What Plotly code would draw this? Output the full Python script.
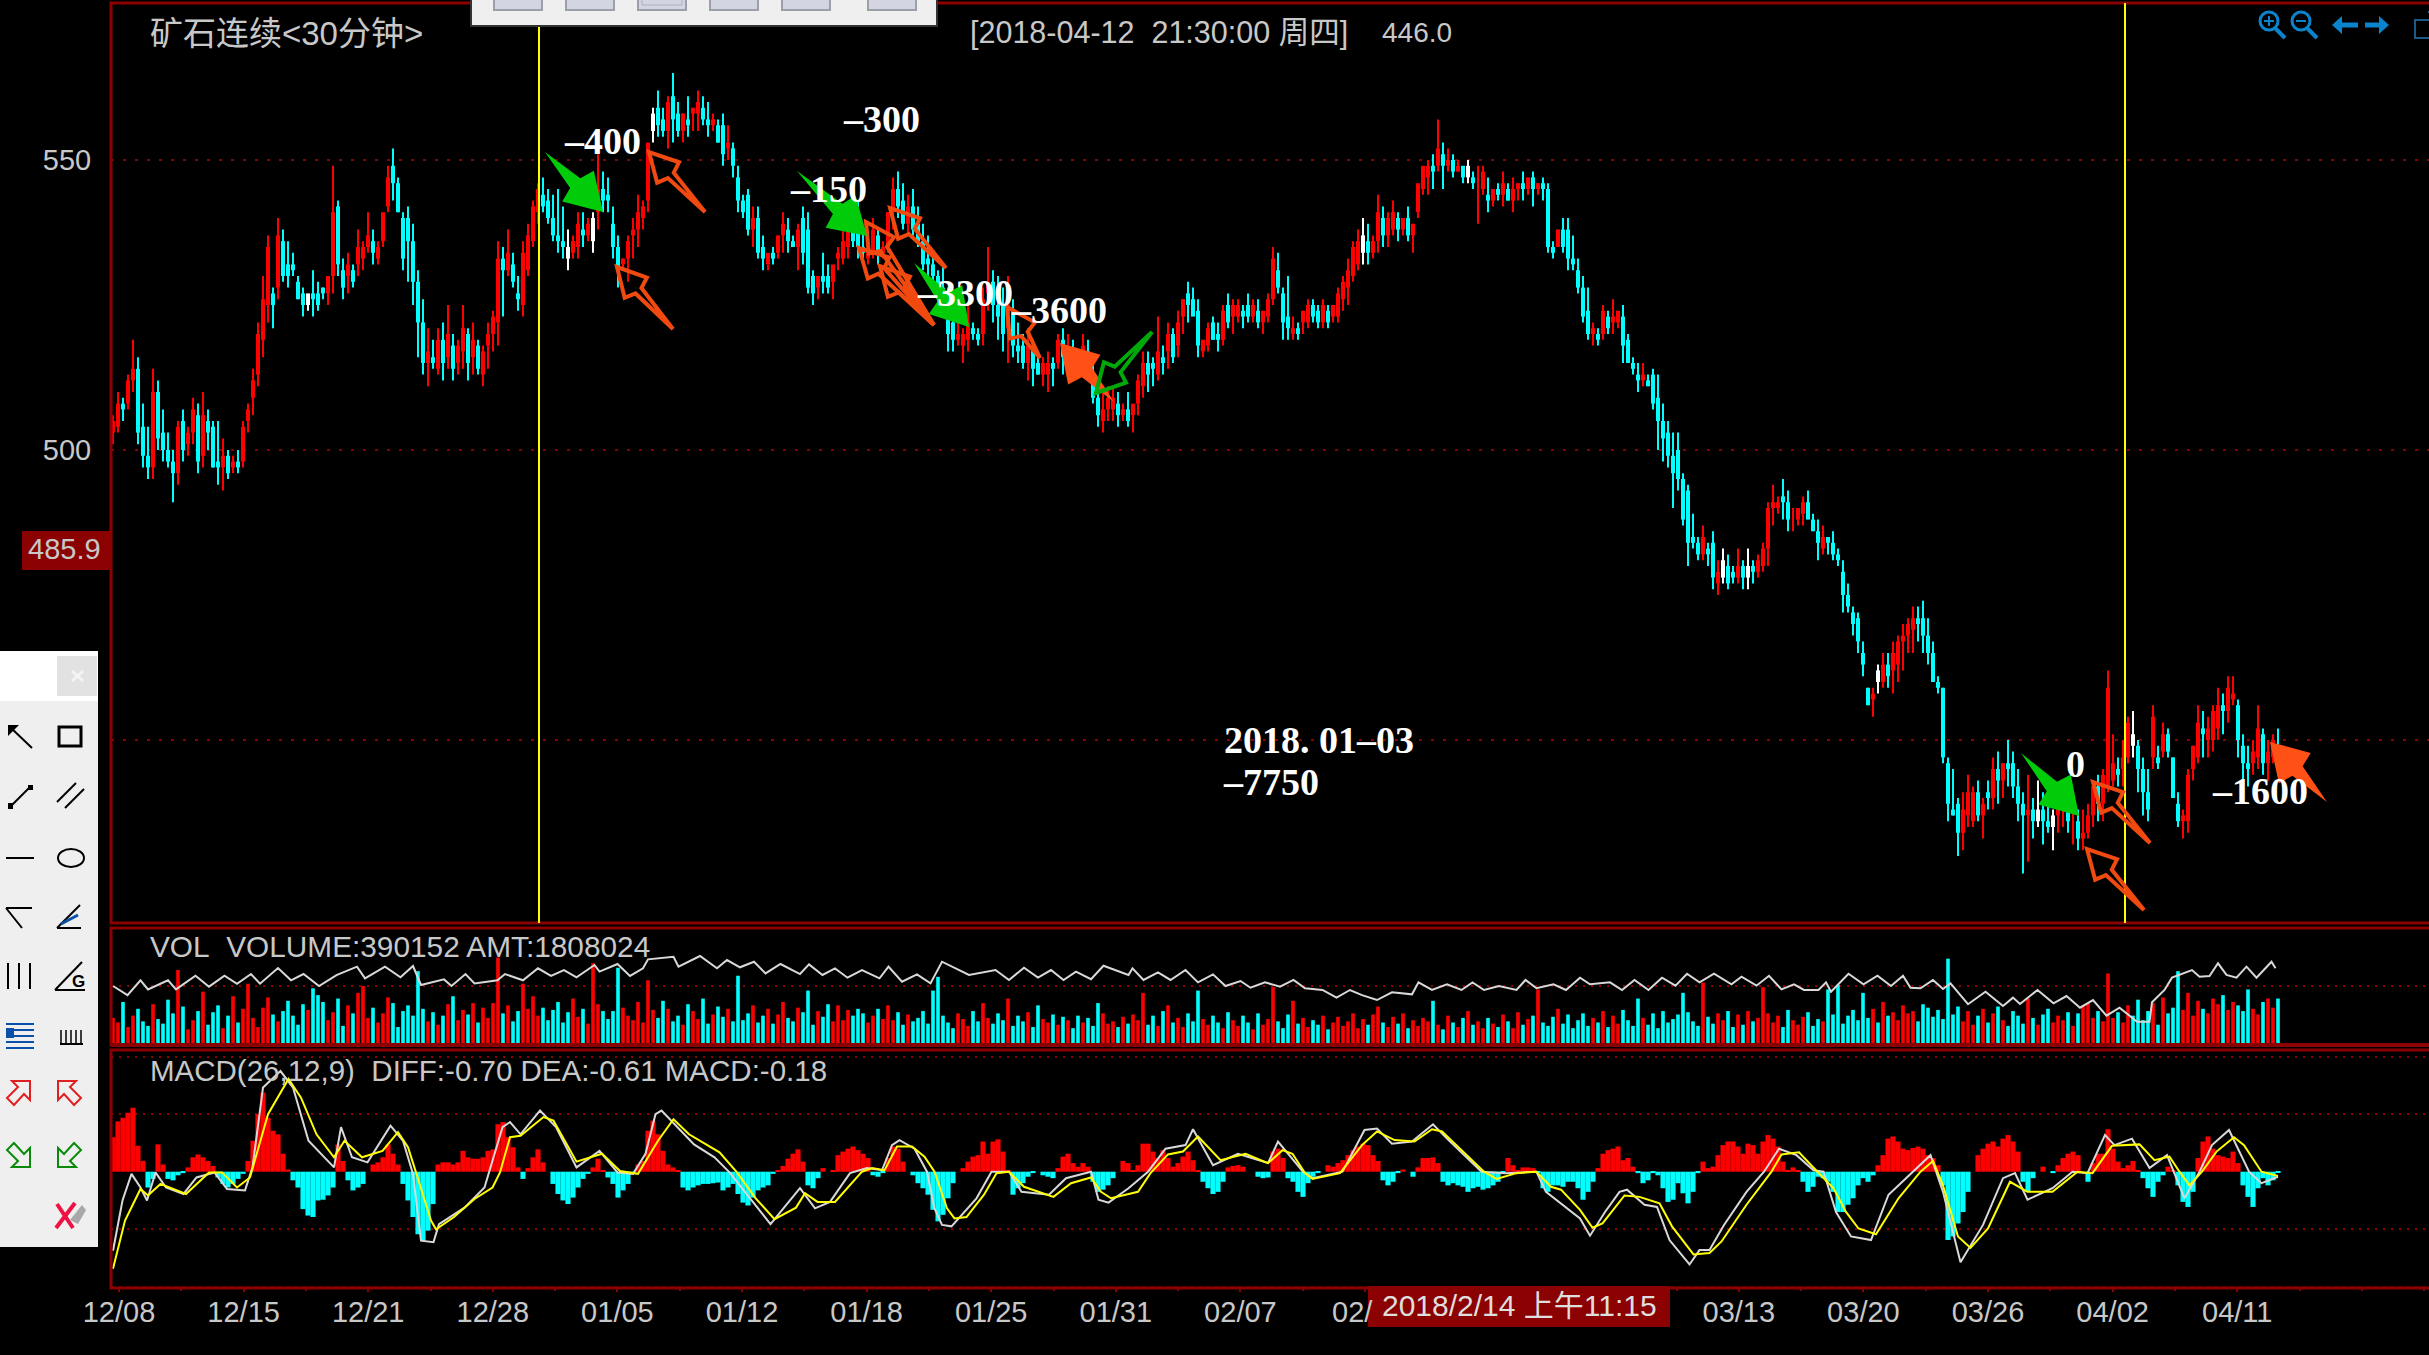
import plotly.graph_objects as go

# ---------- chart text ----------
title_text = "矿石连续<30分钟>"
stamp_text = "[2018-04-12\u00a0\u00a021:30:00 周四]"
last_price_text = "446.0"
vol_text = "VOL\u00a0\u00a0VOLUME:390152 AMT:1808024"
macd_text = "MACD(26,12,9)\u00a0\u00a0DIFF:-0.70 DEA:-0.61 MACD:-0.18"
price_ticks = [550, 500, 450]
price_tick_text = ["550", "500", ""]
# the crosshair date tag hides the 02/14, 02/22 and 03/05 labels, so only "02/" peeks out
date_labels = ["12/08", "12/15", "12/21", "12/28", "01/05", "01/12", "01/18", "01/25", "01/31",
               "02/07", "", "", "", "03/13", "03/20", "03/26", "04/02", "04/11"]

# ---------- 30-minute bars ----------
highs = [
 506,510,509,513,519,516,508,504,514,512,507,503,500,505,507,504,509,508,510,507,505,505,502,500,499,
 500,505,508,514,522,530,537,528,540,538,536,534,530,528,526,531,529,528,530,549,543,533,534,532,538,
 536,541,538,536,540,549,552,547,541,542,539,531,526,521,519,521,522,525,520,519,525,521,522,519,518,
 522,524,536,535,538,534,530,536,539,543,546,547,545,544,545,542,538,537,541,541,540,541,551,548,547,
 542,537,533,537,540,544,543,550,559,562,559,561,565,560,558,561,559,562,561,560,558,557,558,556,553,
 549,544,545,542,542,537,532,535,536,541,540,537,539,542,541,531,530,534,532,530,535,538,537,542,543,
 538,535,540,538,536,541,547,548,546,544,545,542,539,537,534,531,532,528,525,522,521,525,522,521,528,
 535,531,530,528,530,526,522,520,521,519,517,516,517,516,520,521,520,519,516,520,519,515,511,510,511,
 511,510,508,510,507,513,517,517,516,523,518,522,521,524,526,529,528,526,519,522,523,522,525,527,526,
 526,525,527,526,526,524,527,535,534,528,530,523,522,524,526,526,525,526,525,525,528,530,533,536,538,
 540,539,537,544,542,541,543,541,540,542,539,541,546,550,551,557,553,552,551,550,548,550,548,549,549,
 547,545,546,548,546,547,546,548,545,548,546,547,546,536,538,540,540,537,533,530,528,522,521,525,524,
 526,524,525,520,516,515,515,513,514,513,508,505,503,503,496,494,489,485,487,484,486,481,483,482,480,
 483,481,483,481,482,484,491,494,492,495,493,490,489,492,493,489,488,487,485,486,483,481,477,473,472,
 467,459,459,463,465,465,467,468,470,471,473,473,474,471,467,461,459,447,445,440,441,444,442,443,440,
 443,447,448,446,450,448,445,441,444,440,443,441,441,438,440,441,443,439,438,438,439,443,444,445,462,
 451,447,450,454,455,450,447,445,456,449,453,452,447,441,438,445,449,456,455,454,456,459,458,461,461,
 457,451,449,450,456,452,450,451,452]
lows = [
 501,503,505,507,510,501,497,495,495,500,498,497,491,494,498,499,501,496,497,500,497,494,493,495,496,
 496,497,503,506,511,516,522,521,526,529,528,530,526,523,524,523,524,526,525,527,530,526,527,528,530,
 531,534,532,532,535,541,543,541,531,529,525,516,513,511,514,513,512,514,512,513,514,512,513,513,511,
 514,517,518,523,530,528,524,523,530,535,539,541,539,536,534,533,531,533,533,535,536,534,538,541,541,
 533,528,531,529,533,535,538,541,553,554,554,552,553,554,553,554,555,555,556,554,555,553,549,550,547,
 541,540,537,535,533,531,531,532,533,534,534,535,531,532,527,525,526,527,527,526,531,532,533,535,533,
 533,532,533,532,533,534,538,540,538,537,537,535,531,530,529,525,523,517,517,518,515,517,519,518,518,
 524,522,519,517,515,516,515,514,512,511,513,511,510,511,514,513,515,514,513,513,514,508,504,503,505,
 505,504,505,504,503,506,509,510,511,512,513,514,515,516,520,522,524,516,516,517,519,517,518,521,520,
 522,521,522,522,521,520,522,525,527,519,519,519,519,520,521,522,521,521,521,522,522,524,525,529,531,
 532,532,533,534,535,535,537,536,537,536,534,540,544,544,545,548,545,548,547,548,546,546,545,539,544,
 541,542,543,542,543,541,543,543,544,542,544,543,534,533,535,534,531,531,527,522,519,518,518,519,520,
 520,521,515,516,513,510,511,511,507,500,498,497,490,493,487,480,483,481,481,480,476,475,477,476,477,
 477,476,476,477,478,479,480,487,489,488,486,486,487,487,489,486,481,482,482,481,480,472,472,468,465,
 461,456,454,458,459,459,458,460,462,465,465,467,465,463,462,458,446,436,437,430,431,435,435,436,433,
 438,438,439,440,442,440,436,427,429,433,435,432,434,431,434,435,434,432,431,431,433,435,436,436,441,
 442,442,442,446,447,441,437,436,445,445,447,447,440,435,433,434,443,446,447,447,448,450,451,453,456,
 447,443,442,444,445,444,443,446,447]
opens = [
 503,504,508,508,512,514,504,499,497,510,503,500,498,496,505,501,503,506,499,505,504,498,497,499,497,
 498,498,505,509,513,519,525,527,528,536,532,532,529,527,525,527,527,528,527,530,542,531,530,531,532,
 533,535,536,533,536,542,549,546,540,540,536,529,522,515,516,514,519,516,518,515,517,520,516,518,513,
 518,520,522,533,531,532,527,525,531,536,541,544,543,540,537,536,535,534,535,538,537,536,541,545,544,
 539,535,532,533,537,538,540,543,555,559,557,555,561,558,555,557,558,558,559,557,556,556,556,552,552,
 547,543,544,538,540,535,532,534,534,537,538,536,535,540,538,530,528,530,530,529,533,533,535,540,541,
 535,533,534,537,534,535,541,545,543,539,542,539,536,533,532,530,528,526,522,519,518,519,521,520,520,
 527,529,525,525,521,524,518,518,515,518,515,513,513,515,515,519,516,517,515,515,517,513,509,505,507,
 507,508,506,507,506,508,511,515,515,513,516,517,520,518,523,527,526,524,517,518,522,520,519,525,523,
 523,524,525,523,524,522,523,526,531,527,523,520,521,522,522,525,524,522,524,523,523,526,528,530,532,
 534,536,534,536,540,537,538,540,538,540,537,541,545,547,549,549,551,549,550,548,549,547,547,546,545,
 544,543,545,544,545,543,545,546,545,547,545,546,545,535,535,538,538,533,531,528,524,520,520,520,523,
 522,522,523,519,515,513,512,512,513,509,505,503,499,500,495,493,485,484,482,483,484,477,478,480,479,
 478,480,478,480,479,480,483,490,490,492,491,488,488,489,491,488,486,483,485,484,482,479,475,472,471,
 465,459,457,462,460,463,462,463,467,468,469,471,471,468,465,460,459,446,438,439,434,437,436,441,437,
 441,440,445,443,446,446,442,439,437,438,436,438,436,435,437,438,440,436,436,433,434,437,442,439,442,
 443,445,445,447,451,449,445,441,447,447,448,451,447,439,436,436,445,447,452,450,450,452,456,455,457,
 456,449,446,446,447,451,446,447,449]
closes = [
 505,508,507,512,514,503,499,497,510,502,500,498,496,504,500,503,507,498,506,503,497,497,499,496,498,
 497,504,507,512,520,526,535,525,537,530,530,531,526,525,527,526,525,527,530,541,532,528,532,529,535,
 535,537,534,535,541,547,546,541,533,536,529,522,515,517,515,519,515,520,514,518,521,515,519,514,517,
 520,523,533,531,534,529,526,534,537,542,545,542,540,537,536,535,533,536,539,537,539,540,545,543,543,
 535,531,533,536,538,541,542,553,558,556,555,560,557,555,558,556,559,560,557,556,557,553,551,553,549,
 543,541,538,540,534,533,534,533,537,539,536,535,538,534,528,527,530,529,528,532,534,536,538,536,535,
 534,535,538,534,535,541,545,542,539,542,538,536,532,532,530,528,525,520,519,520,520,522,520,519,526,
 529,525,523,520,525,518,517,515,518,514,513,515,515,514,519,516,517,515,514,518,514,509,506,507,509,
 509,506,507,505,508,512,515,513,514,517,515,520,516,522,526,525,523,518,519,521,519,519,524,522,525,
 525,523,523,525,522,524,526,533,528,522,521,521,520,524,525,523,522,525,522,525,527,529,531,535,536,
 537,534,536,541,537,540,541,538,540,537,539,546,549,549,548,552,549,550,548,549,547,549,546,546,548,
 543,545,544,546,543,545,546,545,547,545,546,545,535,534,538,535,533,532,528,523,520,521,519,524,521,
 523,524,518,515,514,512,513,511,508,505,502,499,496,495,488,484,484,482,485,482,478,479,481,477,478,
 480,478,480,479,481,483,490,491,491,491,488,488,490,491,488,486,484,485,484,482,481,475,473,470,467,
 463,456,458,460,463,461,465,467,468,470,471,470,468,465,460,459,447,439,437,434,438,441,441,437,439,
 440,445,443,446,445,442,439,437,438,436,438,436,435,437,438,440,436,436,433,434,437,442,439,444,459,
 446,444,447,453,449,445,441,438,454,446,451,448,440,436,437,444,449,453,451,452,455,456,455,459,458,
 450,446,445,448,452,446,448,450,446]
white_bars = [39, 91, 96, 108, 250, 271, 322, 327, 353, 385, 388, 404]

# volume, in units of 10 000
volumes = [
 22,18,36,14,24,30,19,15,34,21,17,38,26,64,32,12,20,28,45,16,27,33,13,24,41,
 18,30,52,22,14,31,40,25,19,28,37,24,16,34,29,48,42,36,20,27,39,15,33,26,44,
 50,22,31,18,26,40,35,14,28,33,24,63,30,19,27,16,24,34,41,20,29,25,35,18,31,
 22,35,75,26,33,19,28,52,30,41,24,31,20,29,36,18,27,39,23,30,17,70,34,28,21,
 28,66,31,24,20,36,18,55,29,22,37,30,19,24,16,34,28,21,39,17,25,32,23,30,19,
 59,20,26,33,18,24,30,17,25,36,22,19,31,27,46,16,28,23,34,19,33,20,29,24,30,
 26,18,24,30,21,33,20,27,16,25,19,22,28,17,46,58,24,18,13,26,21,15,28,19,35,
 22,17,26,20,39,15,24,19,27,14,33,21,18,25,16,23,20,13,24,18,22,15,35,26,17,
 19,14,23,17,25,20,44,16,24,15,28,33,18,22,14,26,19,46,21,16,24,18,13,27,20,
 15,24,18,12,26,16,21,49,19,13,25,37,17,22,14,20,16,24,12,18,23,15,19,26,13,
 21,16,25,32,18,14,23,17,26,13,20,15,22,19,37,16,12,24,18,14,22,28,16,19,13,
 22,17,14,25,19,13,27,16,21,24,47,18,15,23,30,17,25,13,20,26,15,22,18,28,14,
 24,17,29,20,15,39,22,16,26,13,28,18,21,25,44,27,19,15,53,23,17,26,20,28,14,
 25,16,28,19,22,49,26,18,24,14,29,20,16,23,27,15,21,19,47,25,51,17,24,29,20,
 44,22,30,18,36,24,27,20,33,26,28,19,34,31,23,29,21,74,25,32,19,28,16,24,30,
 18,26,32,20,15,28,24,17,39,22,16,25,30,18,24,20,27,15,26,33,35,22,28,19,61,
 22,27,18,33,24,38,20,28,35,16,40,26,31,63,29,44,24,37,30,26,39,34,42,29,36,
 33,28,47,30,25,36,39,31,39]

# white line in the volume panel: bar number and level of each turning point
vol_line_bar = [0,2.9,5.5,7,11,12.6,16.5,19.2,22.3,24.8,27.6,29.4,33,35.6,38.1,41.2,44.7,48.8,50.4,54.4,57.5,60,61.6,66.2,67.7,70.5,72.3,76.9,78.4,82,85,87.6,90.2,92.7,96.3,97.3,100.9,103.4,106,107,112.1,113.1,117.4,120.8,122.8,125.4,128.2,130.5,133.5,137.4,
 139.2,141.9,144.4,146.9,149.8,153.3,155.1,157.8,160.8,163.5,165.8,171.2,176.5,179.2,182.2,185,187.6,190.1,192.6,195.6,198.1,203.1,203.9,206.1,209,211.5,214.5,217,220,222.5,225.5,227.5,230.4,233.4,236.1,238.4,241.9,244.7,247.4,249.8,252.8,255.8,259.8,261.1,263.8,266.8,269.7,271.9,274.2,277.2,280.7,282.5,284.7,288.1,290.6,293.4,
 295.4,299.4,301.8,304.3,307.1,309.8,312.5,314.8,317.3,320.2,323.7,325.7,328.7,331.2,333.7,336.2,338.2,341.1,342.6,343.6,347.1,350.1,352.9,355.6,358,359.5,361.5,364,366,367.5,371,374.5,378,380,381.4,384.9,388.1,390.7,393.4,396,398.7,401.3,404.8,407.3,407.8,410.3,411.8,415.8,417.3,419.3,421,422.7,424.7,426.7,428.7,431.7,432.5]
vol_line_val = [50,42,55,47,55,47,59,49.4,59,52,60.5,52,65.8,55,60.5,50,59.6,67,56.7,67,57.6,67.5,50.9,55.8,50,60.5,52.3,55,60.5,55,65.5,58.8,64,57.6,68.4,62.6,69.3,58.8,65.5,73.4,75.7,67,76.3,65.5,72.8,66.4,71.3,61,69.3,60.5,
 69,59.7,65.5,57.3,64,56.7,67,53.8,60.2,52.3,71.3,59.7,64,55.3,66,57.3,64,55.3,62.6,56,67.8,59.7,65.5,55.3,62,55.3,64,53.2,60.2,50,54.4,48.5,53.2,49.4,55.3,48,46.5,39.8,46.5,42,37.7,44.5,42.7,53.2,46.5,51.5,46.5,53.2,46.5,50,46.5,55.3,48,51.5,46.5,57.3,
 51.5,53.2,46.5,55.3,46.5,57.3,50.3,60.8,53.2,60.8,51.5,58.2,50.3,59,47,51.5,46.5,46.5,53.2,45,60.8,51.5,59,50,59,48.5,48,55.3,47.4,52.3,34,45,32.5,39.8,34.2,46.5,34.8,41.2,31,37.7,24,31,18.7,18.7,35.7,46.5,57.3,64,58.2,58.8,69.9,59.7,57.3,67,57.3,71.3,65.5]

# MACD histogram, one value per bar
macd_hist = [
 4.8,7,7.5,8.2,8.9,3.6,1.5,-2.2,-1,3.8,1,-1,-1.2,-.5,-.2,.6,2,2.4,2,1.5,.8,-.8,-1.7,-2.2,-1.7,
 -1,-.3,1.5,4.3,8,11,7.5,5.7,5.2,2.5,.3,-1.2,-2.2,-5.2,-6.1,-6.3,-4,-3.9,-3.3,-2.2,3.8,1.5,-1.2,-2.6,-2.2,
 -1.7,0,1,1.3,2,3.8,2.5,1,-1.7,-4,-6.3,-8.7,-9.6,-8.2,-4.5,1,1.3,1.3,1,1.3,2.9,2,1.8,1.8,2,
 2.9,3.1,6.6,6.9,4.8,3.4,.6,-1,.5,2,3.1,1.3,0,-1.7,-3.1,-4,-4.5,-3.6,-2.2,-1,-.3,.6,1.8,.1,-.8,
 -1.7,-3.6,-2.6,-1.7,-.3,1,1.5,5.7,7.1,5.2,2.9,1,.6,.2,-2.2,-2.6,-2.2,-1.9,-1.7,-1.7,-1.6,-1.5,-2.6,-2.2,-1.7,
 -3.1,-4.3,-4.7,-3.6,-2.6,-2.2,-1.9,-.3,.1,.8,1.8,2.5,3.1,1.4,-1.9,-2.3,-.9,.5,0,.2,2.3,2.8,3.2,3.5,3,
 2.5,1.9,-.5,-.7,-.2,1.9,3.5,3.2,1.4,0,-.5,-1.6,-2.3,-3.2,-5.3,-6.9,-6,-3.7,-1.6,0,.5,1.4,2.1,2.3,4.2,
 2.5,4.2,4.5,2.8,.2,-3.2,-2.3,-1.6,-.7,-.2,0,-.5,-.7,-.9,.5,2.1,2.5,1.2,.7,1.2,.7,-1.4,-2.8,-2.5,-1.9,
 -.9,0,1.5,1.2,.2,.9,3.9,3.9,2.8,1.9,3,1.9,.7,1.2,2.1,2.8,1.6,.2,-1.4,-2.3,-3.1,-2.8,-1.4,.6,.8,
 .9,.7,0,0,-.7,-.9,-.8,2.8,3.2,1.9,-.9,-1.4,-2.8,-3.5,-1.6,-.7,-.2,0,.9,.7,1.2,1.6,2.3,3,3.5,
 3.9,3.7,2.3,1.5,-1.2,-1.9,-1.4,-.2,.3,0,-.7,.6,1.9,1.9,2,1.2,-1.4,-1.9,-1.6,-1.9,-2.1,-2.8,-2.3,-2.1,-2.5,
 -2.3,-1.9,-1.4,-.2,1.9,.9,.2,.6,.6,.5,-.2,-2.3,-2.8,-1.9,-1.9,-2.1,-1.4,-1.4,-2.3,-3.9,-2.8,-1.4,.5,2.5,3,
 3.2,3.5,1.6,1.9,.7,-.2,-1.6,-1.2,-.2,-.5,-2.3,-4.2,-3.9,-1.6,-3,-4.4,-2.8,-.2,1.4,.5,.7,2.3,3.7,4.2,4.2,
 3.5,2.5,3.9,3.7,2.5,4.2,5.1,4.6,3.5,1.4,.2,.6,.2,-1.4,-2.8,-2.1,-.7,-.9,-1.4,-2.8,-5.6,-5.6,-4.6,-3.7,-1.9,
 -.9,-1.4,-.5,.9,2.3,4.6,4.9,4.2,3.2,3,3.3,3.5,3.2,2.3,1.9,.9,-1.9,-9.5,-9,-7.2,-5.6,-2.8,0,2.3,3.2,
 3.9,4.2,3.5,4.6,5.1,4.2,2.8,-1.4,-2.8,-.9,0,.7,0,-.2,.9,1.9,2.5,2.8,2.3,0,-1.4,1.2,2.5,2.5,5.9,
 3.2,1.4,.5,.9,1.5,.2,-.9,-2.3,-3.5,-1.4,-.5,.7,.2,-1.9,-4.2,-4.9,-2.8,1.9,4.2,4.9,3.2,2.3,2.1,1.9,2.8,
 1.2,-1.9,-3.5,-4.9,-2.3,-.9,-1.9,-1.2,-.18]

# DIFF and DEA: bar number and level of each turning point
diff_bar = [0,1.9,3.7,5.5,6.8,8.5,10.6,14.1,16.7,20.3,22.8,26.4,27.9,30,33.5,36,39.1,44.2,45.6,47.8,50.9,55.5,58,60,61.6,64.1,65.2,70.3,74.3,77.9,79.4,81.5,85.4,88.6,92.7,97.3,100.9,104,106.5,108.5,109.7,116.2,120.3,123.3,131.5,137.4,
 140.4,143.4,147.4,150.8,153.8,155.8,157.3,160.3,162.8,164.3,165.8,167.7,172.7,175.7,179.2,181.7,187.2,190.6,195.6,197.1,199.1,203.1,207,210.5,214.5,216,220,225,231,233,238,239.9,245.9,250.3,252.8,255.8,259.8,264,266.8,273.7,278.7,284.7,286.6,293.4,
 295.4,298.4,301.3,302.8,306.3,308.8,311.3,315.3,317.3,319.3,322.2,324.2,326.7,330.2,333.2,336.7,340.1,342.1,344.6,347.6,351.6,355.1,360,363.5,366,369.5,374,378,380.4,382.9,387.9,391.9,394.9,398.4,400.3,403.8,407.3,410.8,414.3,417.3,419.8,423.2,427.2,429.7,433]
diff_val = [-11,-4,-.3,-2.2,-4,-.1,-2.2,-3.1,-.8,-.1,-2.4,-2.6,.6,11.7,14,11.7,4.3,.6,6.2,2,1.3,6.4,4.3,-.3,-9.6,-9.8,-7.3,-5,-2.2,6.2,6.9,5.2,8.5,6.2,.6,2.9,-.1,-.3,2.5,8,8.5,3.8,2,-.1,-7.3,-2.3,
 -5.1,-4.2,-.2,.5,.2,3.7,4.4,3.2,0,-5.1,-7.4,-7.6,-3.7,0,0,-2.8,-3.2,-.9,0,-3.9,-4.3,-2.3,0,3.2,3.7,5.9,.9,2.5,1.2,4.2,0,-.9,0,5.8,6,3.9,4.2,6.6,4.6,0,-.2,0,-2.8,-6.5,
 -8.9,-5.6,-2.8,-2.5,-4.6,-4.9,-9.5,-12.9,-10.9,-10.9,-7.4,-5.3,-2.8,0,3.2,2.3,.2,0,-5.6,-9,-9.5,-3.2,0,2.3,-2.8,-12.6,-7.4,-.9,-.2,-3.9,-2.3,0,-.2,5.1,3.7,4.6,.5,2.3,-3.7,0,3.7,5.8,0,-1.6,-.7]
dea_bar = [0,2.4,5.5,7,9.5,14.6,19.2,21.8,24.8,27.4,31,35.1,37.6,40.7,44.2,46.3,49.8,53.9,57,59,60.6,63.6,64.6,68.2,72.3,75.9,77.4,79.4,81.5,86.1,88.1,92.7,97.8,101.4,105,109,112.1,115.2,121.3,124.8,128.4,132.3,136.6,
 138.4,140.9,144.4,149.8,151.8,154.3,156.8,159.8,162.3,164.3,166.8,168.3,170.7,174.2,176.7,179.2,182.2,188.1,191.6,195.6,197.6,199.6,205,207.5,211,214,217,221.5,226.5,231,233.9,235.9,238.4,239.9,245.4,249.8,252.8,256.3,260.3,263.8,265.8,274.2,276.7,280.7,284.7,287.6,289.6,293.4,
 295.9,297.9,302.3,305.3,309.3,311.8,316.1,319.3,321.7,326.7,330.2,331.7,333.7,337.2,340.6,344.1,346.6,349.1,352.6,357.1,361.5,364,366,369,371.5,375,379.4,382.9,387.9,392.9,395.9,399.8,405.3,408.3,411.3,413.3,415.3,417.8,420.7,424.2,426.2,429.7,433]
dea_val = [-13.5,-6.8,-2.4,-3.3,-1.7,-3.1,-.1,-.1,-2.2,-.8,8,12.9,10.3,5.2,2,4.3,2,2.9,5.5,3.4,-.1,-6.8,-8,-6.3,-3.8,-2.2,-.1,4.8,5,7.6,7.1,1.4,2.5,.1,-.3,4.3,7.3,5.2,2.7,-.1,-3.6,-6.6,-5,
 -3,-4.2,-4.2,0,.5,.2,3.5,3.5,2.1,0,-5.1,-6.5,-6.3,-3.2,-.2,0,-2.1,-3.5,-1.6,-.8,-2.8,-3.7,-2.8,-.2,2.4,2.8,4.9,1.6,2.5,1.2,3,2.5,-.2,-1,-.2,3.7,5.6,4.4,4.2,5.9,5.6,0,-1,-.2,0,-2.1,-2.5,-5.3,
 -7.8,-7.2,-3.3,-3.5,-4.4,-7.6,-11.5,-11.3,-9.7,-4.6,-1.4,0,2.4,2.7,.2,-2.3,-5.6,-7.9,-8.7,-3.7,0,1.5,-1.9,-9,-10.6,-7.9,-1.4,-2.8,-2.8,0,-.2,3.6,3.8,1.6,2.1,0,-1.9,0,2.8,4.8,3.7,0,-.61]

n_bars = len(closes)
assert len(highs) == len(lows) == len(opens) == n_bars == len(volumes) == len(macd_hist), (
    len(highs), len(lows), len(opens), n_bars, len(volumes), len(macd_hist))
assert len(vol_line_bar) == len(vol_line_val), (len(vol_line_bar), len(vol_line_val))
assert len(diff_bar) == len(diff_val), (len(diff_bar), len(diff_val))
assert len(dea_bar) == len(dea_val), (len(dea_bar), len(dea_val))

# ---------- page geometry ----------
W, H = 2429, 1355
DARK = "#8b0000"
RED, CYAN, WHITE, GREY = "#ff0000", "#00ffff", "#ffffff", "#c8c8c8"
ORANGE, GREEN, BLUE = "#f04a10", "#00cc0a", "#0a84cc"
SANS = "Liberation Sans, Noto Sans CJK SC, sans-serif"
SERIF = "Liberation Serif, serif"

px = lambda x: x / W
py = lambda y: 1 - y / H
bar_step, bar_first = 5.0, 113.0
to_bar = lambda x: (x - bar_first) / bar_step
x_range = [to_bar(111), to_bar(W)]
tick_pos = [1.2 + 24.92 * k for k in range(len(date_labels))]

colors = [WHITE if i in white_bars else (RED if closes[i] >= opens[i] else CYAN) for i in range(n_bars)]
hist_colors = [RED if v >= 0 else CYAN for v in macd_hist]
vol_colors = [RED if closes[i] >= opens[i] else CYAN for i in range(n_bars)]

fig = go.Figure()
for col in (RED, CYAN, WHITE):
    xs, ys = [], []
    for i in range(n_bars):
        if colors[i] == col:
            xs += [i, i, None]
            ys += [lows[i], highs[i], None]
    fig.add_trace(go.Scatter(x=xs, y=ys, mode="lines", line=dict(color=col, width=2), xaxis="x", yaxis="y", hoverinfo="skip"))
fig.add_trace(go.Bar(x=list(range(n_bars)), base=[min(o, c) for o, c in zip(opens, closes)],
                     y=[abs(c - o) for o, c in zip(opens, closes)], width=0.8,
                     marker=dict(color=colors, line=dict(width=0)), xaxis="x", yaxis="y", hoverinfo="skip"))
fig.add_trace(go.Bar(x=list(range(n_bars)), y=volumes, width=0.72,
                     marker=dict(color=vol_colors, line=dict(width=0)), xaxis="x2", yaxis="y2", hoverinfo="skip"))
fig.add_trace(go.Scatter(x=vol_line_bar, y=vol_line_val, mode="lines", line=dict(color="#d8d8d8", width=2),
                         xaxis="x2", yaxis="y2", hoverinfo="skip"))
fig.add_trace(go.Bar(x=list(range(n_bars)), y=macd_hist, width=1.02,
                     marker=dict(color=hist_colors, line=dict(width=0)), xaxis="x3", yaxis="y3", hoverinfo="skip"))
fig.add_trace(go.Scatter(x=diff_bar, y=diff_val, mode="lines", line=dict(color="#d8d8d8", width=2),
                         xaxis="x3", yaxis="y3", hoverinfo="skip"))
fig.add_trace(go.Scatter(x=dea_bar, y=dea_val, mode="lines", line=dict(color="#ffff00", width=2),
                         xaxis="x3", yaxis="y3", hoverinfo="skip"))

# ---------- drawing helpers (page furniture and hand-drawn arrows) ----------
shapes, notes = [], []

def line(x0, y0, x1, y1, color, w=2):
    shapes.append(dict(type="line", xref="paper", yref="paper", x0=px(x0), y0=py(y0), x1=px(x1), y1=py(y1),
                       line=dict(color=color, width=w), layer="above"))

def rect(x0, y0, x1, y1, fill=None, color=None, w=1):
    shapes.append(dict(type="rect", xref="paper", yref="paper", x0=px(x0), y0=py(y0), x1=px(x1), y1=py(y1),
                       fillcolor=fill or "rgba(0,0,0,0)", line=dict(color=color or "rgba(0,0,0,0)", width=w if color else 0),
                       layer="above"))

def oval(cx, cy, rx, ry, color, w=2):
    shapes.append(dict(type="circle", xref="paper", yref="paper", x0=px(cx - rx), y0=py(cy - ry), x1=px(cx + rx), y1=py(cy + ry),
                       line=dict(color=color, width=w), layer="above"))

def poly(pts, fill=None, color=None, w=2):
    d = "M " + " L ".join(f"{px(x):.5f},{py(y):.5f}" for x, y in pts) + " Z"
    shapes.append(dict(type="path", xref="paper", yref="paper", path=d, fillcolor=fill or "rgba(0,0,0,0)",
                       line=dict(color=color or "rgba(0,0,0,0)", width=w if color else 0), layer="above"))

def arrow(tail, tip, color, filled, neck=4, barb=15, head=28, w=4):
    dx, dy = tip[0] - tail[0], tip[1] - tail[1]
    ln = (dx * dx + dy * dy) ** 0.5
    ux, uy = dx / ln, dy / ln
    vx, vy = -uy, ux
    pt = lambda u, v: (tip[0] - ux * u + vx * v, tip[1] - uy * u + vy * v)
    pts = [tip, pt(head, -barb), pt(head + 4, -neck), tail, pt(head + 4, neck), pt(head, barb)]
    if filled:
        poly(pts, fill=color)
    else:
        poly(pts, color=color, w=w)

def text(x, y, s, size, color=GREY, font=SANS, anchor="left"):
    notes.append(dict(xref="paper", yref="paper", x=px(x), y=py(y), text=s, showarrow=False, xanchor=anchor, yanchor="middle",
                      font=dict(size=size, color=color, family=font), borderpad=0))

# panel frames
rect(111, 3, W + 5, 923, color=DARK, w=3)
rect(111, 928, W + 5, 1045, color=DARK, w=3)
rect(111, 1050, W + 5, 1288, color=DARK, w=3)
rect(111, 1043, W, 1047, fill=DARK)

# crosshair verticals at two bars
for bar in (to_bar(539), to_bar(2125)):
    shapes.append(dict(type="line", xref="x", yref="paper", x0=bar, x1=bar, y0=py(923), y1=py(3),
                       line=dict(color="#ffff00", width=2), layer="above"))

# hand-drawn arrows
for tail, tip in [((673, 329), (617, 267)), ((705, 212), (649, 152)), ((934, 325), (866, 222)), ((946, 268), (890, 208)),
                  ((934, 325), (859, 248)), ((934, 325), (880, 266)), ((1040, 358), (1007, 307)),
                  ((2150, 843), (2093, 782)), ((2144, 910), (2087, 849))]:
    arrow(tail, tip, ORANGE, False)
for tail, tip in [((1114, 402), (1060, 343)), ((2327, 802), (2270, 742))]:
    arrow(tail, tip, "#ff5016", True, neck=7, barb=22, head=36)
for tail, tip in [((545, 152), (603, 212)), ((797, 171), (867, 236)), ((914, 263), (969, 327)), ((2021, 753), (2079, 816))]:
    arrow(tail, tip, GREEN, True, neck=7, barb=22, head=36)
arrow((1152, 332), (1096, 393), "#00a80a", False)

# crosshair price tag
rect(22, 531, 111, 570, fill=DARK)
text(64, 549, "485.9", 29, anchor="center")

# crosshair date tag
rect(1368, 1286, 1670, 1327, fill=DARK)
text(1519, 1305, "2018/2/14 上午11:15", 30, color="#dedede", anchor="center")
text(1331, 1312, "02/", 29)

# floating window at top
rect(471, -2, 937, 26, fill="#efefef", color="#333333", w=2)
for x0, x1 in [(494, 542), (566, 614), (638, 686), (710, 758), (782, 830), (868, 916)]:
    rect(x0, -3, x1, 10, fill="#d3d6e2", color="#9a9fa8", w=2)
rect(642, -3, 682, 5, fill="#d3d6e2", color="#aeb2bf", w=1)

# drawing toolbar
rect(0, 651, 98, 1247, fill="#efefef")
rect(0, 651, 98, 701, fill="#ffffff")
rect(57, 656, 97, 696, fill="#e2e2e2")
line(72, 671, 83, 681, "#f4f4f4", 3)
line(83, 671, 72, 681, "#f4f4f4", 3)
k = "#000000"
line(10, 727, 32, 748, k, 2)
poly([(8, 725), (19, 725), (8, 736)], fill=k)
rect(59, 727, 81, 746, color=k, w=3)
line(11, 806, 30, 787, k, 2)
rect(8, 803, 13, 809, fill=k)
rect(28, 785, 33, 790, fill=k)
line(57, 802, 76, 783, k, 2)
line(65, 808, 84, 789, k, 2)
line(6, 858, 34, 858, k, 2)
oval(71, 858, 13, 9, k)
line(6, 908, 32, 908, k, 2)
line(6, 908, 22, 928, k, 2)
line(57, 928, 81, 928, k, 2)
line(57, 928, 80, 905, k, 2)
line(61, 924, 78, 915, "#0a4fa8", 3)
for x in (8, 19, 30):
    line(x, 963, x, 989, k, 2)
line(55, 990, 85, 990, k, 2)
line(55, 990, 82, 962, k, 2)
text(78, 981, "<b>G</b>", 17, color=k, anchor="center")
for y in (1024, 1030, 1036, 1042, 1048):
    line(6, y, 34, y, "#0a4fa8", 2)
rect(6, 1028, 14, 1038, fill="#0a4fa8")
line(60, 1044, 83, 1044, k, 2)
for x in (61, 66, 71, 76, 81):
    line(x, 1030, x, 1044, k, 1.5)

def tool_arrow(cx, cy, sx, sy, color):
    head = [(11, -12), (11, 7), (5, 1), (-5, 12), (-12, 5), (-1, -6), (-7, -12)]
    poly([(cx + sx * x, cy + sy * y) for x, y in head], color=color, w=2)

tool_arrow(19, 1093, 1, 1, "#e02020")
tool_arrow(69, 1093, -1, 1, "#e02020")
tool_arrow(19, 1155, 1, -1, "#0a8a0a")
tool_arrow(69, 1155, -1, -1, "#0a8a0a")
line(57, 1204, 73, 1228, "#ee1144", 4)
line(75, 1203, 56, 1228, "#ee1144", 4)
poly([(70, 1220), (82, 1205), (86, 1210), (78, 1224)], fill="#a8a8a8")

# zoom / pan icons at the top right
for cx, sign in ((2269, "+"), (2301, "-")):
    oval(cx, 21, 9, 9, BLUE, 3)
    line(cx + 6, 28, cx + 16, 38, BLUE, 4)
    line(cx - 5, 21, cx + 5, 21, BLUE, 2)
    if sign == "+":
        line(cx, 16, cx, 26, BLUE, 2)
line(2340, 25, 2358, 25, BLUE, 5)
poly([(2332, 25), (2342, 16), (2342, 34)], fill=BLUE)
line(2365, 25, 2382, 25, BLUE, 5)
poly([(2389, 25), (2379, 16), (2379, 34)], fill=BLUE)
rect(2415, 20, W + 4, 38, color="#1c5a8a", w=2)
line(2428, 12, W, 12, "#1c5a8a", 2)

# headers
text(149, 33, title_text, 33)
text(969, 32, stamp_text, 30.5)
text(1381, 32, last_price_text, 28)
text(149, 946, vol_text, 29.8)
text(149, 1070, macd_text, 29.5)

# hand-written notes on the chart
for x, y, s in [(563, 141, "–400"), (842, 119, "–300"), (789, 189, "–150"), (916, 293, "–3300"), (1010, 310, "–3600"),
                (2065, 764, "0"), (2211, 791, "–1600"), (1223, 740, "2018. 01–03"), (1222, 782, "–7750")]:
    text(x, y, f"<b>{s}</b>", 38, color=WHITE, font=SERIF)

dot = "3px,9px"
fig.update_layout(
    width=W, height=H, margin=dict(l=0, r=0, t=0, b=0), autosize=False,
    paper_bgcolor="#000000", plot_bgcolor="#000000", showlegend=False, hovermode=False,
    barmode="overlay", shapes=shapes, annotations=notes,
    xaxis=dict(domain=[px(111), 1], range=x_range, showticklabels=False, showgrid=False, zeroline=False, ticks="", anchor="y",
               automargin=False),
    yaxis=dict(domain=[py(923), py(3)], range=[550 - (923 - 160) / 5.8, 550 - (3 - 160) / 5.8], anchor="x", automargin=False,
               tickmode="array", tickvals=price_ticks, ticktext=price_tick_text, ticks="outside", ticklen=13, tickcolor="#000000",
               tickfont=dict(size=29, color=GREY, family=SANS), showgrid=True, gridcolor=DARK, griddash=dot, gridwidth=2,
               zeroline=False, showline=False),
    xaxis2=dict(domain=[px(111), 1], range=x_range, showticklabels=False, showgrid=False, zeroline=False, anchor="y2",
                tickmode="array", tickvals=tick_pos, ticks="", automargin=False),
    yaxis2=dict(domain=[py(1043), py(928)], range=[0, (1043 - 928) * 50 / 57], anchor="x2", showticklabels=False, ticks="", automargin=False,
                tickmode="array", tickvals=[50], showgrid=True, gridcolor=DARK, griddash="2px,6px", gridwidth=2, zeroline=False),
    xaxis3=dict(domain=[px(111), 1], range=x_range, showgrid=False, zeroline=False, anchor="y3", automargin=False,
                tickmode="array", tickvals=tick_pos, ticktext=date_labels, ticks="outside", ticklen=3, tickcolor=DARK, tickwidth=2,
                tickfont=dict(size=29, color=GREY, family=SANS), tickangle=0, ticklabelstandoff=-5,
                minor=dict(ticks="outside", ticklen=2, tickcolor=DARK, tick0=1.2, dtick=12.46)),
    yaxis3=dict(domain=[py(1288), py(1050)], range=[(1171.7 - 1288) / 7.19, (1171.7 - 1050) / 7.19], anchor="x3", automargin=False,
                showticklabels=False, ticks="", tickmode="array", tickvals=[-16, -8, 8, 16], showgrid=True, gridcolor=DARK,
                griddash="2px,6px", gridwidth=2, zeroline=False),
)

fig.write_html("out.html", config={"displayModeBar": False},
               post_script="document.body.style.margin='0';document.body.style.background='#000';document.documentElement.style.overflow='hidden';")
